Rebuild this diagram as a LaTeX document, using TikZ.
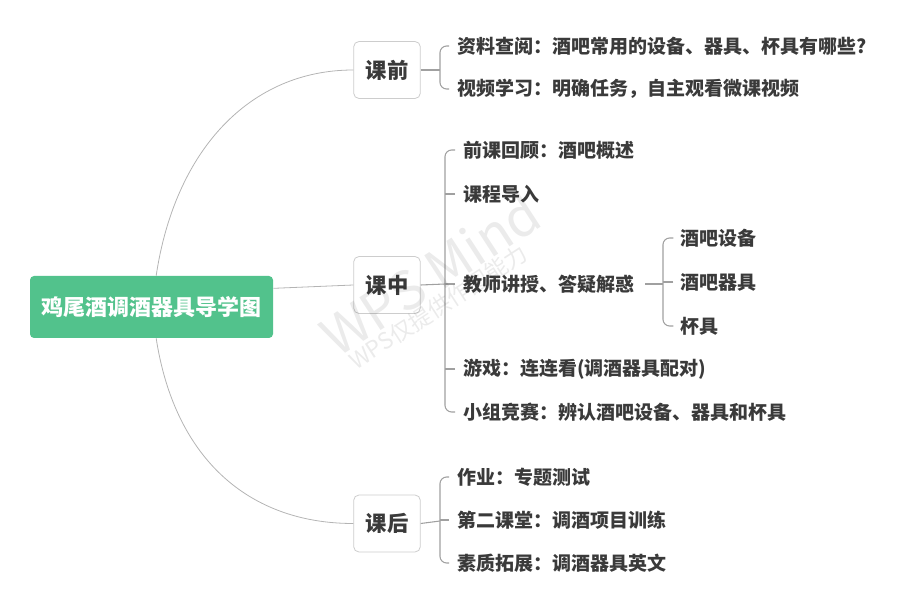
\documentclass[tikz,border=0pt]{standalone}
\usepackage{fontspec}
\usepackage{tikz}
\usepackage{xcolor}
\newfontfamily\cjk{Noto Sans CJK SC}

\definecolor{rootgreen}{RGB}{82,194,140}
\definecolor{leafgray}{RGB}{58,58,58}
\definecolor{linkgray}{RGB}{160,160,160}
\definecolor{curvegray}{RGB}{180,180,180}
\definecolor{boxgray}{RGB}{205,205,205}

\tikzset{
  rootbox/.style={fill=rootgreen, rounded corners=3pt, minimum width=182.25pt, minimum height=46.5pt, inner sep=0pt, text=white, font=\cjk\bfseries\fontsize{16.5}{18}\selectfont},
  stagebox/.style={draw=boxgray, line width=0.6pt, rounded corners=4pt, fill=white, minimum width=50pt, minimum height=42.75pt, inner sep=0pt, text=leafgray, font=\cjk\bfseries\fontsize{16}{18}\selectfont},
  leaf/.style={anchor=west, inner sep=0pt, text=leafgray, font=\cjk\bfseries\fontsize{14.25}{16}\selectfont},
  link/.style={draw=linkgray, line width=0.8pt},
  curve/.style={draw=curvegray, line width=0.6pt},
  wmark/.style={text=black, text opacity=0.08, inner sep=0pt, rotate=33}
}

\begin{document}
\begin{tikzpicture}[x=0.75pt,y=0.75pt,yscale=-1,xscale=1]
\useasboundingbox (0,0) rectangle (914,616);

% Root Node
\node[rootbox] (root) at (151.5,307) {鸡尾酒调酒器具导学图};

% Stage Nodes
\node[stagebox] (kq) at (387,70) {课前};
\node[stagebox] (kz) at (387,285) {课中};
\node[stagebox] (kh) at (387,523.5) {课后};

% root to stages
\draw[curve] ([xshift=3.5pt]root.north) .. controls (175,150) and (250,70) .. (kq.west);
\draw[curve] ([yshift=-14pt]root.east) -- (kz.west);
\draw[curve] ([xshift=3.5pt]root.south) .. controls (175,460) and (250,523.5) .. (kh.west);

% Text Node
\node[leaf] (a1) at (457,46) {资料查阅：酒吧常用的设备、器具、杯具有哪些?};
\node[leaf] (a2) at (457,89) {视频学习：明确任务，自主观看微课视频};
% Text Node
\node[leaf] (b1) at (463,150) {前课回顾：酒吧概述};
\node[leaf] (b2) at (463,194) {课程导入};
\node[leaf] (b3) at (463,284) {教师讲授、答疑解惑};
\node[leaf] (b4) at (463,369) {游戏：连连看(调酒器具配对)};
\node[leaf] (b5) at (463,412) {小组竞赛：辨认酒吧设备、器具和杯具};
% Text Node
\node[leaf] (c1) at (680,238) {酒吧设备};
\node[leaf] (c2) at (680,282) {酒吧器具};
\node[leaf] (c3) at (680,326) {杯具};
% Text Node
\node[leaf] (d1) at (457,477) {作业：专题测试};
\node[leaf] (d2) at (457,520) {第二课堂：调酒项目训练};
\node[leaf] (d3) at (457,563) {素质拓展：调酒器具英文};

% brackets
\coordinate (kqj) at (440,70);
\coordinate (kzj) at (445,284);
\coordinate (b3j) at (663,284);
\coordinate (khj) at (440,521);

\draw[link] (kq.east) -- (kqj);
\draw[link, rounded corners=5pt] ([xshift=-6pt]a1.west) -| (kqj) |- ([xshift=-6pt]a2.west);

\draw[link] (kz.east) -- (kzj);
\draw[link, rounded corners=5pt] ([xshift=-6pt]b1.west) -| (kzj) |- ([xshift=-6pt]b5.west);
\foreach \n in {b2,b3,b4}
  \draw[link] ([xshift=-6pt]\n.west) -- (\n.west -| kzj);

\draw[link] ([xshift=8pt]b3.east) -- (b3j);
\draw[link, rounded corners=5pt] ([xshift=-5pt]c1.west) -| (b3j) |- ([xshift=-5pt]c3.west);
\draw[link] ([xshift=-5pt]c2.west) -- (c2.west -| b3j);

\draw[link] (kh.east) -- (khj);
\draw[link, rounded corners=5pt] ([xshift=-6pt]d1.west) -| (khj) |- ([xshift=-6pt]d3.west);
\draw[link] ([xshift=-6pt]d2.west) -- (d2.west -| khj);

% watermark, on top
\node[wmark, font=\cjk\fontsize{40}{40}\selectfont] (wm1) at (430,274) {WPS Mind};
\node[wmark, font=\cjk\fontsize{17}{17}\selectfont] (wm2) at (438,307) {WPS仅提供作图能力};

\end{tikzpicture}
\end{document}
